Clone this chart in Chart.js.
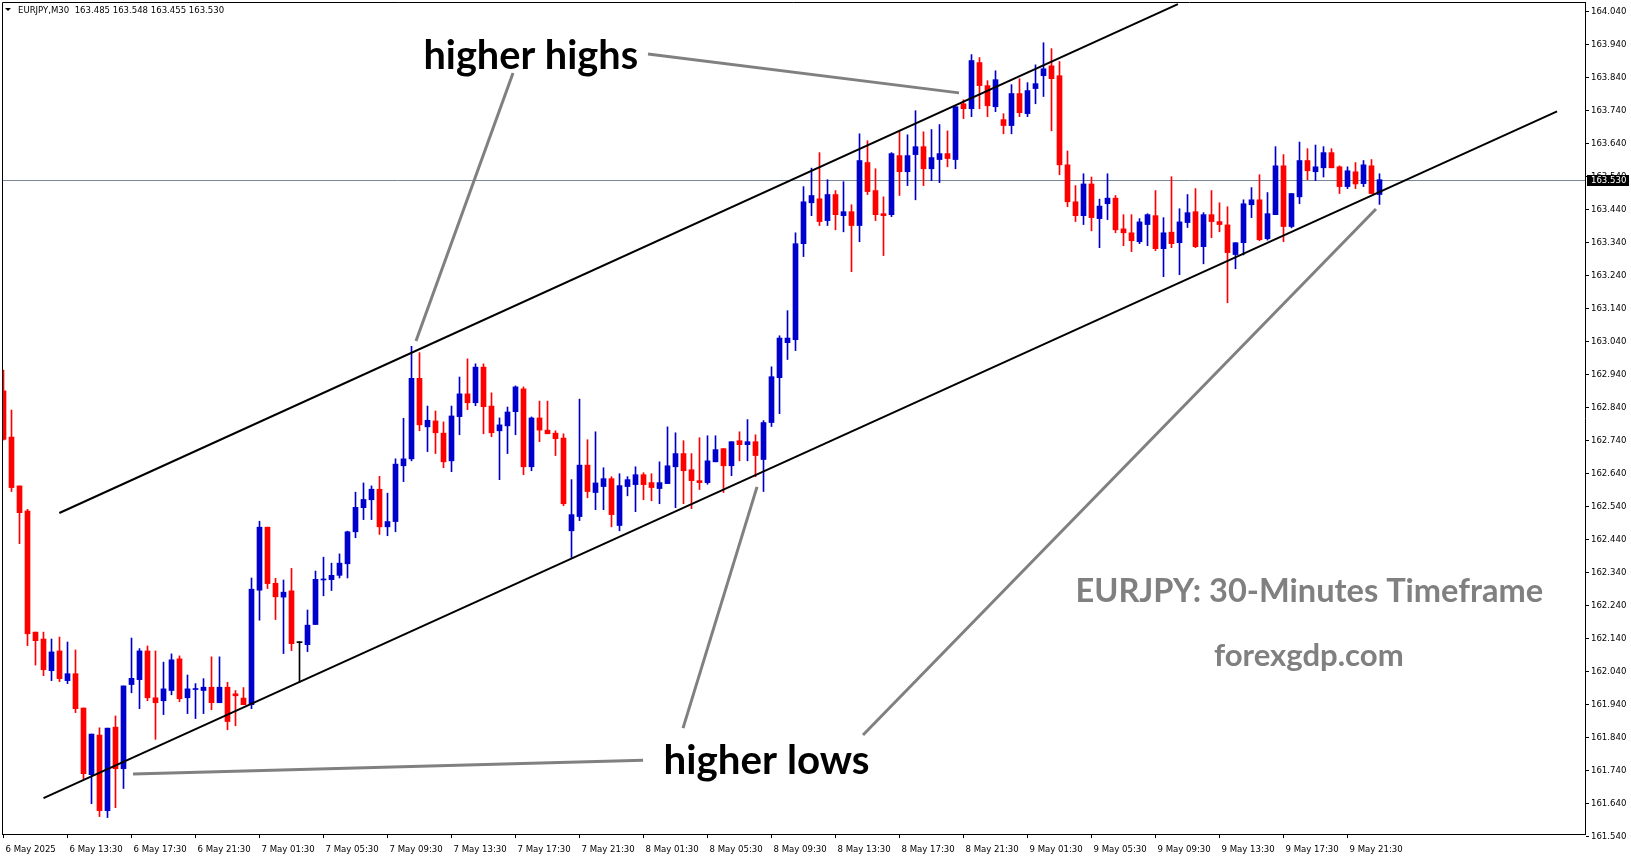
<!DOCTYPE html>
<html>
<head>
<meta charset="utf-8">
<title>EURJPY M30</title>
<script src="https://cdn.jsdelivr.net/npm/chart.js@4"></script>
<style>
  html, body { margin: 0; padding: 0; background: #fff; }
  #wrap { width: 1631px; height: 861px; position: relative; }
</style>
</head>
<body>
<div id="wrap"><canvas id="chart"></canvas></div>
<script>
// EURJPY M30 candles, bar 0 = 6 May 09:30, bar 172 = 9 May 23:30
const symbol = 'EURJPY,M30';

const opens = [
  162.890, 162.750, 162.602, 162.526, 162.159, 162.138, 162.042, 162.102, 162.012, 162.033,
  161.929, 161.727, 161.847, 161.618, 161.871, 161.745, 162.000, 162.015, 162.102, 161.960,
  161.951, 161.982, 162.078, 161.960, 161.985, 161.982, 161.992, 161.945, 161.992, 161.972,
  161.959, 161.939, 162.286, 162.477, 162.307, 162.265, 162.284, 162.127, 162.121, 162.182,
  162.317, 162.318, 162.331, 162.366, 162.463, 162.536, 162.560, 162.592, 162.478, 162.494,
  162.663, 162.684, 162.928, 162.781, 162.799, 162.762, 162.678, 162.812, 162.881, 162.854,
  162.962, 162.844, 162.769, 162.784, 162.827, 162.896, 162.660, 162.808, 162.771, 162.762,
  162.747, 162.466, 162.509, 162.665, 162.582, 162.600, 162.624, 162.482, 162.600, 162.606,
  162.636, 162.612, 162.594, 162.609, 162.660, 162.700, 162.651, 162.618, 162.612, 162.675,
  162.715, 162.663, 162.739, 162.727, 162.736, 162.682, 162.794, 162.930, 163.036, 163.045,
  163.336, 163.460, 163.472, 163.406, 163.485, 163.421, 163.433, 163.391, 163.582, 163.497,
  163.427, 163.424, 163.603, 163.554, 163.606, 163.630, 163.563, 163.591, 163.609, 163.591,
  163.760, 163.745, 163.885, 163.815, 163.751, 163.712, 163.694, 163.791, 163.730, 163.806,
  163.845, 163.875, 163.845, 163.575, 163.463, 163.421, 163.517, 163.412, 163.457, 163.474,
  163.381, 163.369, 163.342, 163.394, 163.421, 163.321, 163.371, 163.339, 163.400, 163.433,
  163.327, 163.424, 163.403, 163.393, 163.303, 163.339, 163.454, 163.469, 163.351, 163.424,
  163.572, 163.388, 163.478, 163.588, 163.554, 163.566, 163.612, 163.569, 163.509, 163.554,
  163.518, 163.572, 163.485
];
const highs = [
  162.953, 162.832, 162.602, 162.531, 162.159, 162.159, 162.138, 162.144, 162.129, 162.105,
  161.929, 161.850, 161.869, 161.868, 161.905, 161.996, 162.141, 162.109, 162.117, 162.102,
  162.068, 162.093, 162.087, 162.029, 162.003, 162.018, 162.084, 162.084, 162.007, 161.982,
  161.991, 162.323, 162.495, 162.477, 162.322, 162.317, 162.352, 162.130, 162.226, 162.344,
  162.386, 162.368, 162.396, 162.465, 162.583, 162.611, 162.602, 162.631, 162.580, 162.684,
  162.807, 163.025, 163.006, 162.844, 162.829, 162.796, 162.844, 162.932, 162.987, 162.972,
  162.972, 162.884, 162.808, 162.841, 162.905, 162.902, 162.811, 162.859, 162.859, 162.769,
  162.760, 162.621, 162.865, 162.742, 162.766, 162.657, 162.630, 162.639, 162.630, 162.660,
  162.642, 162.639, 162.675, 162.781, 162.763, 162.739, 162.700, 162.748, 162.754, 162.754,
  162.715, 162.736, 162.766, 162.803, 162.757, 162.800, 162.963, 163.057, 163.133, 163.369,
  163.509, 163.565, 163.612, 163.530, 163.497, 163.524, 163.454, 163.669, 163.648, 163.563,
  163.478, 163.612, 163.675, 163.666, 163.739, 163.675, 163.682, 163.697, 163.678, 163.754,
  163.772, 163.909, 163.900, 163.830, 163.860, 163.730, 163.818, 163.836, 163.824, 163.878,
  163.945, 163.927, 163.888, 163.617, 163.512, 163.548, 163.538, 163.471, 163.548, 163.482,
  163.424, 163.424, 163.412, 163.427, 163.497, 163.415, 163.539, 163.442, 163.485, 163.503,
  163.430, 163.497, 163.460, 163.448, 163.339, 163.469, 163.506, 163.545, 163.491, 163.630,
  163.606, 163.488, 163.644, 163.624, 163.635, 163.630, 163.624, 163.572, 163.569, 163.582,
  163.588, 163.591, 163.548
];
const lows = [
  162.741, 162.585, 162.427, 162.118, 162.059, 162.027, 162.012, 162.009, 162.003, 161.915,
  161.712, 161.639, 161.600, 161.597, 161.627, 161.685, 161.975, 161.927, 161.951, 161.834,
  161.909, 161.969, 161.948, 161.912, 161.897, 161.912, 161.924, 161.945, 161.863, 161.875,
  161.939, 161.927, 162.195, 162.291, 162.197, 162.094, 162.103, 162.007, 162.100, 162.182,
  162.269, 162.285, 162.323, 162.323, 162.445, 162.500, 162.500, 162.455, 162.451, 162.463,
  162.615, 162.678, 162.769, 162.706, 162.700, 162.657, 162.645, 162.757, 162.833, 162.845,
  162.760, 162.751, 162.621, 162.700, 162.757, 162.636, 162.648, 162.736, 162.760, 162.694,
  162.542, 162.385, 162.497, 162.566, 162.530, 162.530, 162.478, 162.466, 162.572, 162.524,
  162.560, 162.557, 162.548, 162.609, 162.536, 162.548, 162.533, 162.591, 162.607, 162.675,
  162.582, 162.633, 162.678, 162.678, 162.630, 162.585, 162.782, 162.821, 162.985, 163.012,
  163.297, 163.421, 163.391, 163.391, 163.378, 163.372, 163.251, 163.342, 163.485, 163.406,
  163.300, 163.418, 163.482, 163.512, 163.469, 163.512, 163.527, 163.521, 163.569, 163.563,
  163.715, 163.721, 163.745, 163.721, 163.736, 163.669, 163.669, 163.721, 163.721, 163.760,
  163.782, 163.678, 163.545, 163.448, 163.403, 163.394, 163.375, 163.324, 163.409, 163.369,
  163.330, 163.312, 163.336, 163.330, 163.315, 163.236, 163.324, 163.242, 163.385, 163.324,
  163.275, 163.354, 163.372, 163.157, 163.260, 163.302, 163.415, 163.345, 163.347, 163.424,
  163.342, 163.384, 163.457, 163.530, 163.527, 163.538, 163.566, 163.488, 163.503, 163.503,
  163.509, 163.488, 163.455
];
const closes = [
  162.743, 162.597, 162.521, 162.154, 162.133, 162.045, 162.099, 162.018, 162.033, 161.927,
  161.730, 161.850, 161.618, 161.868, 161.745, 161.996, 162.019, 162.102, 161.960, 161.945,
  161.987, 162.075, 161.957, 161.987, 161.988, 161.992, 161.945, 161.992, 161.888, 161.966,
  161.939, 162.289, 162.477, 162.306, 162.266, 162.280, 162.124, 162.127, 162.180, 162.319,
  162.320, 162.331, 162.368, 162.463, 162.537, 162.561, 162.592, 162.478, 162.494, 162.668,
  162.684, 162.928, 162.787, 162.801, 162.763, 162.675, 162.814, 162.881, 162.854, 162.962,
  162.842, 162.763, 162.787, 162.826, 162.902, 162.660, 162.808, 162.771, 162.760, 162.745,
  162.548, 162.515, 162.665, 162.585, 162.611, 162.624, 162.515, 162.603, 162.621, 162.636,
  162.606, 162.597, 162.612, 162.663, 162.700, 162.648, 162.618, 162.612, 162.678, 162.712,
  162.663, 162.736, 162.727, 162.736, 162.694, 162.794, 162.933, 163.050, 163.050, 163.336,
  163.463, 163.482, 163.403, 163.485, 163.424, 163.433, 163.391, 163.588, 163.494, 163.424,
  163.421, 163.609, 163.554, 163.603, 163.630, 163.563, 163.597, 163.609, 163.594, 163.751,
  163.745, 163.891, 163.815, 163.754, 163.833, 163.694, 163.791, 163.733, 163.800, 163.821,
  163.866, 163.836, 163.575, 163.463, 163.421, 163.517, 163.415, 163.450, 163.474, 163.378,
  163.369, 163.345, 163.402, 163.424, 163.321, 163.369, 163.336, 163.402, 163.430, 163.327,
  163.424, 163.403, 163.394, 163.309, 163.339, 163.457, 163.469, 163.348, 163.427, 163.572,
  163.388, 163.488, 163.588, 163.557, 163.569, 163.612, 163.566, 163.509, 163.557, 163.517,
  163.575, 163.488, 163.530
];

// time axis: one label every 8 bars (4 hours)
const xTickBars = [0, 8, 16, 24, 32, 40, 48, 56, 64, 72, 80, 88, 96, 104, 112, 120, 128, 136, 144, 152, 160, 168];
const xTickLabels = [
  '6 May 2025', '6 May 13:30', '6 May 17:30', '6 May 21:30', '7 May 01:30', '7 May 05:30',
  '7 May 09:30', '7 May 13:30', '7 May 17:30', '7 May 21:30', '8 May 01:30', '8 May 05:30',
  '8 May 09:30', '8 May 13:30', '8 May 17:30', '8 May 21:30', '9 May 01:30', '9 May 05:30',
  '9 May 09:30', '9 May 13:30', '9 May 17:30', '9 May 21:30'
];
const yTicks = [
  164.04, 163.94, 163.84, 163.74, 163.64, 163.54, 163.44, 163.34, 163.24, 163.14, 163.04,
  162.94, 162.84, 162.74, 162.64, 162.54, 162.44, 162.34, 162.24, 162.14, 162.04,
  161.94, 161.84, 161.74, 161.64, 161.54
];

// drawn objects, in [bar index, price]
const channelLines = [
  [[6.98, 162.520], [146.8, 164.062]],
  [[5.0, 161.656], [194.2, 163.737]]
];
const pointerLines = [
  [[80.56, 163.911], [119.44, 163.793]],
  [[63.69, 163.853], [51.56, 163.041]],
  [[79.94, 161.771], [16.19, 161.729]],
  [[84.94, 161.868], [94.19, 162.599]],
  [[107.44, 161.847], [171.56, 163.441]]
];
const captions = [
  { text: 'higher highs', bar: 52.49, price: 163.866, width: 215, color: '#000' },
  { text: 'higher lows', bar: 82.51, price: 161.729, width: 206, color: '#000' },
  { text: 'EURJPY: 30-Minutes Timeframe', bar: 134.0, price: 162.250, width: 468, color: '#808080' },
  { text: 'forexgdp.com', bar: 151.3, price: 162.055, width: 190, color: '#808080' }
];

const BULL = '#0000cd';
const BEAR = '#ff0000';
const DOJI = '#000000';
const AXIS_FONT = "'DejaVu Sans Condensed', 'Liberation Sans', sans-serif";
const AXIS_SIZE = 9.5;
const CAPTION_FONT = "Lato, 'Open Sans', sans-serif";

const last = closes.length - 1;
const lastPrice = closes[last];

function candleColor(i) {
  if (closes[i] > opens[i]) return BULL;
  if (closes[i] < opens[i]) return BEAR;
  return DOJI;
}

const bodies = opens.map((o, i) => ({ x: i, y: [o, closes[i]] }));
const wicks = lows.map((l, i) => ({ x: i, y: [l, highs[i]] }));

function drawSegments(ctx, x, y, segs) {
  for (const [a, b] of segs) {
    ctx.beginPath();
    ctx.moveTo(x.getPixelForValue(a[0]), y.getPixelForValue(a[1]));
    ctx.lineTo(x.getPixelForValue(b[0]), y.getPixelForValue(b[1]));
    ctx.stroke();
  }
}

const overlay = {
  id: 'overlay',
  beforeDatasetsDraw(chart) {
    const { ctx, chartArea: a, scales: { y } } = chart;
    const py = Math.round(y.getPixelForValue(lastPrice)) + 0.5;
    ctx.save();
    ctx.strokeStyle = '#778899';
    ctx.lineWidth = 1;
    ctx.beginPath();
    ctx.moveTo(a.left, py);
    ctx.lineTo(a.right, py);
    ctx.stroke();
    ctx.restore();
  },
  afterDatasetsDraw(chart) {
    const { ctx, chartArea: a, scales: { x, y } } = chart;
    ctx.save();
    ctx.beginPath();
    ctx.rect(a.left, a.top, a.right - a.left, a.bottom - a.top);
    ctx.clip();

    ctx.strokeStyle = '#000';
    ctx.lineWidth = 2;
    drawSegments(ctx, x, y, channelLines);

    ctx.strokeStyle = '#808080';
    ctx.lineWidth = 3;
    drawSegments(ctx, x, y, pointerLines);

    // captions: size the bold font so each text spans its width
    ctx.textBaseline = 'alphabetic';
    ctx.textAlign = 'left';
    for (const c of captions) {
      ctx.font = 'bold 100px ' + CAPTION_FONT;
      const size = 100 * c.width / ctx.measureText(c.text).width;
      ctx.font = 'bold ' + size.toFixed(1) + 'px ' + CAPTION_FONT;
      ctx.fillStyle = c.color;
      ctx.fillText(c.text, x.getPixelForValue(c.bar), y.getPixelForValue(c.price));
    }
    ctx.restore();
  },
  afterDraw(chart) {
    const { ctx, chartArea: a, scales: { y } } = chart;
    ctx.save();
    // frame, left and top
    ctx.strokeStyle = '#000';
    ctx.lineWidth = 1;
    ctx.beginPath();
    ctx.moveTo(a.left + 0.5, a.bottom);
    ctx.lineTo(a.left + 0.5, a.top + 0.5);
    ctx.lineTo(a.right, a.top + 0.5);
    ctx.stroke();

    // header
    ctx.fillStyle = '#000';
    ctx.beginPath();
    ctx.moveTo(5, 8);
    ctx.lineTo(11, 8);
    ctx.lineTo(8, 11);
    ctx.closePath();
    ctx.fill();
    ctx.font = AXIS_SIZE + 'px ' + AXIS_FONT;
    ctx.textBaseline = 'middle';
    ctx.textAlign = 'left';
    const head = symbol + '  ' + [opens[last], highs[last], lows[last], closes[last]].map(v => v.toFixed(3)).join(' ');
    ctx.fillText(head, 18, 10.5);

    // current price box on the axis
    const py = y.getPixelForValue(lastPrice);
    ctx.fillStyle = '#000';
    ctx.fillRect(a.right + 2, Math.round(py) - 5, 42, 11);
    ctx.fillStyle = '#fff';
    ctx.fillText(lastPrice.toFixed(3), a.right + 6, py + 0.5);
    ctx.restore();
  }
};

new Chart(document.getElementById('chart'), {
  data: {
    datasets: [
      {
        type: 'bar',
        data: bodies,
        grouped: false,
        barThickness: 5,
        maxBarThickness: 5,
        minBarLength: 1,
        borderWidth: 0,
        backgroundColor: ctx => candleColor(ctx.dataIndex)
      },
      {
        type: 'bar',
        data: wicks,
        grouped: false,
        barThickness: 1,
        maxBarThickness: 1,
        borderWidth: 0,
        backgroundColor: ctx => candleColor(ctx.dataIndex)
      }
    ]
  },
  options: {
    responsive: true,
    maintainAspectRatio: false,
    animation: false,
    events: [],
    layout: { padding: { left: 2, top: 2, right: 0, bottom: 0 } },
    plugins: { legend: { display: false }, tooltip: { enabled: false } },
    scales: {
      x: {
        type: 'linear',
        min: -0.1875,
        max: 197.6875,
        offset: false,
        grid: { offset: false, drawOnChartArea: false, drawTicks: true, tickLength: 4, tickColor: '#000' },
        border: { display: true, color: '#000', width: 1 },
        afterBuildTicks: scale => { scale.ticks = xTickBars.map(v => ({ value: v })); },
        afterFit: scale => { scale.height = 27; scale.paddingLeft = 0; scale.paddingRight = 0; },
        ticks: {
          autoSkip: false,
          maxRotation: 0,
          minRotation: 0,
          align: 'start',
          labelOffset: 2,
          padding: 6,
          color: '#000',
          font: { family: AXIS_FONT, size: AXIS_SIZE },
          callback: (v, i) => xTickLabels[i]
        }
      },
      y: {
        type: 'linear',
        position: 'right',
        min: 161.5472,
        max: 164.0684,
        grid: { drawOnChartArea: false, drawTicks: true, tickLength: 4, tickColor: '#000' },
        border: { display: true, color: '#000', width: 1 },
        afterBuildTicks: scale => { scale.ticks = yTicks.map(v => ({ value: v })); },
        afterFit: scale => { scale.width = 46; scale.paddingTop = 0; scale.paddingBottom = 0; },
        ticks: {
          autoSkip: false,
          padding: 2,
          color: '#000',
          font: { family: AXIS_FONT, size: AXIS_SIZE },
          callback: v => Number(v).toFixed(3)
        }
      }
    }
  },
  plugins: [overlay]
});
</script>
</body>
</html>
